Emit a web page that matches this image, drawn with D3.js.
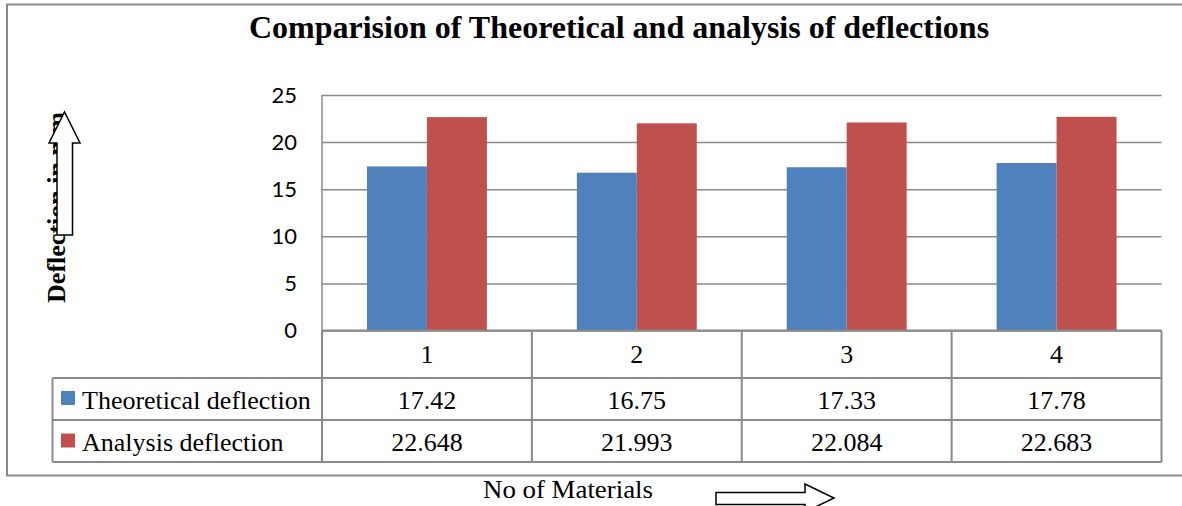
<!DOCTYPE html>
<html>
<head>
<meta charset="utf-8">
<script src="https://cdn.jsdelivr.net/npm/d3@7"></script>
<style>
  html, body { margin: 0; padding: 0; background: #ffffff; }
  svg { display: block; }
</style>
</head>
<body>
<svg id="chart" width="1182" height="506"></svg>
<script>
// Data
const categories = ["1", "2", "3", "4"];
const seriesNames = ["Theoretical deflection", "Analysis deflection"];
const theoretical = [17.42, 16.75, 17.33, 17.78];
const analysis = [22.648, 21.993, 22.084, 22.683];
const yTicks = [0, 5, 10, 15, 20, 25];
const colors = ["#4F81BD", "#C0504D"];

const seriesValues = [theoretical, analysis];
const valueLabels = [
  theoretical.map(v => String(v)),
  analysis.map(v => v.toFixed(3))
];

const svg = d3.select("#chart");
const serif = "'Liberation Serif', 'Times New Roman', serif";
const gridColor = "#8a8a8a";

// Layout
const plot = { left: 322, right: 1161.5, top: 95, bottom: 330.5 };
const rowH = 43;
const tableTop = plot.bottom;
const catRowBottom = 378;
const tableLeft = 52.5;

// Outer frame (extends beyond right edge)
svg.append("rect")
  .attr("x", 7).attr("y", 4.5)
  .attr("width", 1200).attr("height", 471)
  .attr("fill", "none").attr("stroke", gridColor).attr("stroke-width", 2);

// Title
svg.append("text")
  .attr("x", 619).attr("y", 38)
  .attr("text-anchor", "middle")
  .attr("font-family", serif).attr("font-weight", "bold").attr("font-size", 32)
  .text("Comparision of Theoretical and analysis of deflections");

// Scales
const x = d3.scaleBand().domain(categories).range([plot.left, plot.right]).paddingInner(0).paddingOuter(0);
const xs = d3.scaleBand().domain(seriesNames).range([0, x.bandwidth()]).paddingInner(0).paddingOuter(0.75);
const y = d3.scaleLinear().domain([0, 25]).range([plot.bottom, plot.top]);

// Gridlines
const grid = svg.append("g")
  .attr("transform", `translate(${plot.left},0)`)
  .call(d3.axisLeft(y).tickValues(yTicks).tickSize(-(plot.right - plot.left)).tickFormat(""));
grid.select(".domain").remove();
grid.selectAll("line").attr("stroke", gridColor).attr("stroke-width", 1.5);

// Y tick labels
const yAxis = svg.append("g")
  .attr("transform", `translate(${plot.left},0)`)
  .call(d3.axisLeft(y).tickValues(yTicks).tickSize(0).tickPadding(25));
yAxis.select(".domain").remove();
yAxis.selectAll("text")
  .attr("font-family", "Lato, 'Open Sans', sans-serif")
  .attr("font-size", 22).attr("fill", "#000");

// Bars
const groups = svg.append("g").selectAll("g")
  .data(categories)
  .join("g")
  .attr("transform", d => `translate(${x(d)},0)`);
groups.selectAll("rect")
  .data((c, i) => seriesNames.map((s, k) => ({ s, k, v: seriesValues[k][i] })))
  .join("rect")
  .attr("x", d => xs(d.s))
  .attr("width", xs.bandwidth())
  .attr("y", d => y(d.v))
  .attr("height", d => y(0) - y(d.v))
  .attr("fill", d => colors[d.k]);

// Y axis line
svg.append("line")
  .attr("x1", plot.left).attr("x2", plot.left)
  .attr("y1", plot.top).attr("y2", plot.bottom)
  .attr("stroke", gridColor).attr("stroke-width", 1.5);

// Data table
const table = svg.append("g").attr("stroke", gridColor).attr("stroke-width", 2).attr("fill", "none");
const rowLines = [catRowBottom, catRowBottom + rowH - 1, catRowBottom + 2 * rowH - 2];
table.append("line").attr("x1", plot.left).attr("x2", plot.right).attr("y1", tableTop).attr("y2", tableTop);
rowLines.forEach(ry => {
  table.append("line").attr("x1", tableLeft).attr("x2", plot.right).attr("y1", ry).attr("y2", ry);
});
const tableBottom = rowLines[2];
categories.forEach(c => {
  table.append("line").attr("x1", x(c)).attr("x2", x(c)).attr("y1", tableTop).attr("y2", tableBottom);
});
table.append("line").attr("x1", plot.right).attr("x2", plot.right).attr("y1", tableTop).attr("y2", tableBottom);
table.append("line").attr("x1", tableLeft).attr("x2", tableLeft).attr("y1", catRowBottom).attr("y2", tableBottom);

// Category labels
svg.append("g").selectAll("text")
  .data(categories)
  .join("text")
  .attr("x", d => x(d) + x.bandwidth() / 2)
  .attr("y", 363)
  .attr("text-anchor", "middle")
  .attr("font-family", serif).attr("font-size", 26)
  .text(d => d);

// Series rows: legend key, name and values
seriesNames.forEach((s, k) => {
  const base = 408.5 + k * 42.5;
  svg.append("rect")
    .attr("x", 61).attr("y", base - 17.5)
    .attr("width", 14).attr("height", 14)
    .attr("fill", colors[k]);
  svg.append("text")
    .attr("x", 82).attr("y", base)
    .attr("font-family", serif).attr("font-size", 26)
    .text(s);
  svg.append("g").selectAll("text")
    .data(categories)
    .join("text")
    .attr("x", d => x(d) + x.bandwidth() / 2)
    .attr("y", base)
    .attr("text-anchor", "middle")
    .attr("font-family", serif).attr("font-size", 26)
    .text((d, i) => valueLabels[k][i]);
});

// Y axis title with upward arrow drawn over it
svg.append("text")
  .attr("transform", "translate(65,303) rotate(-90)")
  .attr("font-family", serif).attr("font-weight", "bold").attr("font-size", 25)
  .attr("textLength", 191).attr("lengthAdjust", "spacingAndGlyphs")
  .text("Deflection in mm");

const upArrow = [[57, 235], [57, 143], [49, 143], [64.5, 112], [80, 143], [72.5, 143], [72.5, 235]];
svg.append("path")
  .attr("d", d3.line()(upArrow) + "Z")
  .attr("fill", "#fff").attr("stroke", "#000").attr("stroke-width", 1.5);

// X axis title with right arrow
svg.append("text")
  .attr("x", 483).attr("y", 498)
  .attr("font-family", serif).attr("font-size", 26)
  .attr("textLength", 170).attr("lengthAdjust", "spacingAndGlyphs")
  .text("No of Materials");

const rightArrow = [[716, 492.5], [805, 492.5], [805, 484], [834, 498], [805, 512], [805, 504.5], [716, 504.5]];
svg.append("path")
  .attr("d", d3.line()(rightArrow) + "Z")
  .attr("fill", "#fff").attr("stroke", "#000").attr("stroke-width", 1.5);
</script>
</body>
</html>
